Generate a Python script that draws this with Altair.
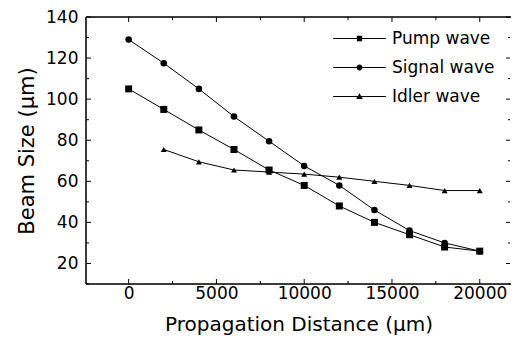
import altair as alt
import pandas as pd

# ---- data ----
names = ["Pump wave", "Signal wave", "Idler wave"]
distance = [0, 2000, 4000, 6000, 8000, 10000, 12000, 14000, 16000, 18000, 20000]
pump = [105, 95, 85, 75.5, 65.5, 58, 48, 40, 34, 28, 26]
signal = [129, 117.5, 105, 91.5, 79.5, 67.5, 58, 46, 36, 30, 26]
idler_distance = [2000, 4000, 6000, 8000, 10000, 12000, 14000, 16000, 18000, 20000]
idler = [75.5, 69.5, 65.5, 64.5, 63.5, 62, 60, 58, 55.5, 55.5]

x_labels = [0, 5000, 10000, 15000, 20000]
x_minor = [2500, 7500, 12500, 17500]
y_labels = [20, 40, 60, 80, 100, 120, 140]
y_minor = [10, 30, 50, 70, 90, 110, 130]

rows = []
for d, v in zip(distance, pump):
    rows.append({"s": names[0], "d": d, "b": v})
for d, v in zip(distance, signal):
    rows.append({"s": names[1], "d": d, "b": v})
for d, v in zip(idler_distance, idler):
    rows.append({"s": names[2], "d": d, "b": v})
df = pd.DataFrame(rows)

W, H = 425, 267
FONT = "DejaVu Sans"

xs = alt.Scale(domain=[-2430, 21780], nice=False, zero=False)
ys = alt.Scale(domain=[10, 140], nice=False, zero=False)

xaxis = alt.Axis(values=x_labels, format="d", ticks=False, domain=False, grid=False,
                 labelFont=FONT, labelFontSize=17, labelColor="black", labelPadding=1,
                 title="Propagation Distance (\u03bcm)", titleFont=FONT, titleFontSize=20,
                 titleFontWeight="normal", titleColor="black", titlePadding=13)
yaxis = alt.Axis(values=y_labels, ticks=False, domain=False, grid=False,
                 labelFont=FONT, labelFontSize=17, labelColor="black", labelPadding=8,
                 title="Beam Size (\u03bcm)", titleFont=FONT, titleFontSize=21,
                 titleFontWeight="normal", titleColor="black", titlePadding=8)

X = alt.X("d:Q", scale=xs, axis=xaxis)
Y = alt.Y("b:Q", scale=ys, axis=yaxis)

lines = alt.Chart(df).mark_line(color="black", strokeWidth=1).encode(x=X, y=Y, detail="s:N")

points = alt.Chart(df).mark_point(filled=True, color="black", opacity=1).encode(
    x=X, y=Y,
    shape=alt.Shape("s:N", scale=alt.Scale(domain=names, range=["square", "circle", "triangle-up"]), legend=None),
    size=alt.Size("s:N", scale=alt.Scale(domain=names, range=[49, 36, 45]), legend=None),
)

line_part = "M-3.3,-0.07H3.3V0.07H-3.3Z"
legend_paths = [
    line_part + "M-0.33,-0.33H0.33V0.33H-0.33Z",
    line_part + "M-0.36,0A0.36,0.36,0,1,1,0.36,0A0.36,0.36,0,1,1,-0.36,0Z",
    line_part + "M0,-0.42L0.42,0.32H-0.42Z",
]

legend_layer = alt.Chart(df).transform_filter("false").mark_point(
    filled=True, color="black", size=256).encode(
    x=X, y=Y,
    shape=alt.Shape("s:N", scale=alt.Scale(domain=names, range=legend_paths),
                    legend=alt.Legend(orient="none", legendX=265, legendY=13, title=None,
                                      padding=0, symbolSize=256, symbolFillColor="black",
                                      symbolStrokeWidth=0, symbolOpacity=1,
                                      labelFont=FONT, labelFontSize=17, labelColor="black",
                                      labelOffset=24, rowPadding=11, labelLimit=200)),
)

def rules_y(vals, x0, x1):
    return alt.Chart(pd.DataFrame({"b": vals})).mark_rule(color="black", strokeWidth=1).encode(
        y=Y, x=alt.value(x0), x2=alt.value(x1))

def rules_x(vals, y0, y1):
    return alt.Chart(pd.DataFrame({"d": vals})).mark_rule(color="black", strokeWidth=1).encode(
        x=X, y=alt.value(y0), y2=alt.value(y1))

ticks = [
    rules_y(y_labels, 0, 5), rules_y(y_minor, 0, 3),
    rules_y(y_labels, W - 1, W - 5), rules_y(y_minor, W - 1, W - 3),
    rules_x(x_labels, H, H - 5), rules_x(x_minor, H, H - 3),
    rules_x(x_labels, 0, 5), rules_x(x_minor, 0, 3),
]

# frame: left, top, bottom (right edge lies outside the picture in the reference)
frame_src = pd.DataFrame({"k": ["frame"]})
frame = [
    alt.Chart(frame_src).mark_rule(color="black", strokeWidth=1.5).encode(
        x=alt.value(0), y=alt.value(0), y2=alt.value(H)),
    alt.Chart(frame_src).mark_rule(color="black", strokeWidth=1.5).encode(
        x=alt.value(0), x2=alt.value(W), y=alt.value(0)),
    alt.Chart(frame_src).mark_rule(color="black", strokeWidth=1.5).encode(
        x=alt.value(0), x2=alt.value(W), y=alt.value(H)),
]

chart = alt.layer(lines, points, legend_layer, *ticks, *frame).resolve_scale(
    shape="independent", size="independent"
).properties(
    width=W, height=H,
    autosize=alt.AutoSizeParams(type="none"),
    padding={"left": 78, "top": 9, "right": 0, "bottom": 51},
).configure_view(stroke=None).configure(background="white")

chart.save("out.html", embed_options={"renderer": "svg", "actions": False})
